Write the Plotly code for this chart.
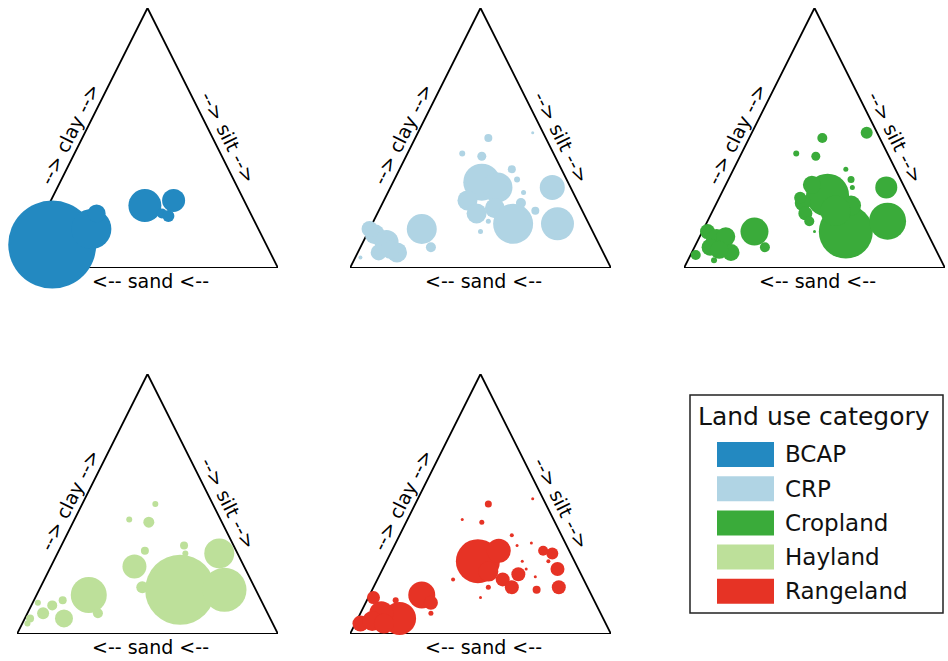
import plotly.graph_objects as go

# ---- data: soil texture (% sand, % silt, % clay) and bubble diameter per sample group ----
categories = ["BCAP", "CRP", "Cropland", "Hayland", "Rangeland"]
colors = ["#2389c1", "#b0d4e4", "#3aab3a", "#bde09a", "#e63325"]

bcap_sand = [82, 64, 59, 39, 27, 34, 32]
bcap_silt = [9, 21, 20, 37, 47, 45, 48]
bcap_clay = [9, 15, 21, 24, 26, 21, 20]
bcap_size = [88, 40, 18, 33, 23, 10, 12]

crp_sand = [84, 81, 79, 86, 85, 94, 81, 65, 65,
            33, 28, 42, 41, 33, 29, 7, 12, 18,
            35, 28, 22, 19, 19, 19, 22, 43, 38, 4]
crp_silt = [3, 9, 15, 8, 0, 2, 12, 20, 27,
            34, 41, 32, 38, 44, 54, 62, 71, 60,
            21, 29, 28, 43, 47, 52, 53, 43, 44, 44]
crp_clay = [13, 10, 6, 6, 15, 4, 7, 15, 8,
            33, 31, 26, 21, 23, 17, 31, 17, 22,
            44, 43, 50, 38, 34, 29, 25, 14, 18, 52]
crp_size = [20, 24, 20, 16, 16, 4, 18, 30, 10,
            37, 30, 20, 20, 20, 40, 25, 33, 8,
            6, 9, 8, 8, 6, 5, 10, 5, 5, 3]

crop_sand = [84, 82, 78, 86, 79, 93, 87, 83, 66, 65,
             31, 35, 42, 42, 43, 43, 31, 24, 31, 13, 7,
             19, 19, 20, 43, 22, 28, 35, 4]
crop_silt = [2, 7, 10, 6, 15, 2, 10, 10, 20, 27,
             41, 33, 33, 31, 36, 39, 55, 52, 47, 69, 62,
             43, 47, 49, 43, 28, 29, 21, 44]
crop_clay = [14, 11, 12, 8, 6, 5, 3, 7, 14, 8,
             28, 32, 25, 27, 21, 18, 14, 24, 22, 18, 31,
             38, 34, 31, 14, 50, 43, 44, 52]
crop_size = [15, 21, 19, 17, 17, 10, 6, 18, 28, 10,
             43, 18, 16, 12, 14, 10, 54, 20, 30, 37, 22,
             5, 7, 5, 3, 10, 9, 6, 12]

hay_sand = [92, 86, 86, 81, 76, 79, 94, 65, 65, 42, 35, 43, 29, 7, 12, 22, 28, 35, 19, 20]
hay_silt = [2, 2, 6, 8, 11, 15, 2, 20, 27, 32, 33, 39, 54, 62, 71, 28, 29, 21, 47, 49]
hay_clay = [6, 12, 8, 11, 13, 6, 4, 15, 8, 26, 32, 18, 17, 31, 17, 50, 43, 44, 34, 31]
hay_size = [8, 6, 12, 10, 8, 18, 6, 36, 10, 24, 8, 12, 70, 30, 44, 6, 11, 6, 8, 6]

range_sand = [94, 84, 76, 78, 84, 89, 85, 65, 63, 65,
              37, 27, 35, 31, 29, 24, 22, 28, 35, 19, 19, 13, 20, 20, 50, 38, 43, 18, 20, 10, 7, 8, 11, 10, 4]
range_silt = [2, 2, 11, 16, 8, 6, 11, 20, 25, 27,
              35, 41, 41, 48, 53, 53, 28, 29, 21, 43, 47, 52, 52, 55, 29, 44, 43, 60, 63, 58, 62, 67, 71, 62, 44]
range_clay = [4, 14, 13, 6, 8, 5, 4, 15, 12, 8,
              28, 32, 24, 21, 18, 23, 50, 43, 44, 38, 34, 35, 28, 25, 21, 18, 14, 22, 17, 32, 31, 25, 18, 28, 52]
range_size = [16, 13, 6, 33, 24, 20, 20, 27, 14, 5,
              44, 24, 20, 14, 14, 14, 7, 5, 3, 4, 3, 3, 3, 3, 4, 5, 3, 3, 8, 10, 12, 14, 14, 4, 3]

groups = [
    (bcap_sand, bcap_silt, bcap_clay, bcap_size),
    (crp_sand, crp_silt, crp_clay, crp_size),
    (crop_sand, crop_silt, crop_clay, crop_size),
    (hay_sand, hay_silt, hay_clay, hay_size),
    (range_sand, range_silt, range_clay, range_size),
]

# ---- page geometry (pixels) ----
W, H = 948, 661
TW, TH = 261, 260                      # triangle base width / height
origins = [(17, 268), (350, 268), (684, 268), (17, 634), (350, 634)]  # bottom-left corners
FONT = "DejaVu Sans"


def to_xy(sand, silt, clay):
    """Ternary composition -> position inside a unit triangle
    (sand at bottom-left, silt at bottom-right, clay at the apex)."""
    xs, ys = [], []
    for s, si, c in zip(sand, silt, clay):
        tot = s + si + c
        xs.append((si + c / 2) / tot)
        ys.append(c / tot)
    return xs, ys


def px_x(p):
    return p / W


def px_y(p):
    return 1 - p / H


fig = go.Figure()
layout_axes = {}
annotations = []

corner_sand, corner_silt, corner_clay = [100, 0, 0, 100], [0, 100, 0, 0], [0, 0, 100, 0]

for i, (cat, col, (sand, silt, clay, size)) in enumerate(zip(categories, colors, groups)):
    k = "" if i == 0 else str(i + 1)
    x0, yb = origins[i]
    layout_axes[f"xaxis{k}"] = dict(domain=[x0 / W, (x0 + TW) / W], range=[0, 1],
                                    visible=False, fixedrange=True, anchor=f"y{k}")
    layout_axes[f"yaxis{k}"] = dict(domain=[1 - yb / H, 1 - (yb - TH) / H], range=[0, 1],
                                    visible=False, fixedrange=True, anchor=f"x{k}")
    xref, yref = f"x{k}", f"y{k}"

    # triangle frame
    tx, ty = to_xy(corner_sand, corner_silt, corner_clay)
    fig.add_trace(go.Scatter(x=tx, y=ty, mode="lines", line=dict(color="black", width=1.8),
                             xaxis=xref, yaxis=yref, hoverinfo="skip", showlegend=False,
                             cliponaxis=False))

    # bubbles
    bx, by = to_xy(sand, silt, clay)
    fig.add_trace(go.Scatter(x=bx, y=by, mode="markers", name=cat,
                             marker=dict(color=col, size=size, sizemode="diameter",
                                         line=dict(width=0), opacity=1),
                             xaxis=xref, yaxis=yref, showlegend=False, cliponaxis=False))

    # edge labels
    font = dict(family=FONT, size=19, color="black")
    annotations.append(dict(x=0.25, y=0.5, xref=xref, yref=yref, text="--> clay -->",
                            showarrow=False, textangle=-63.4, font=font,
                            xshift=-13, yshift=4.5))
    annotations.append(dict(x=0.75, y=0.5, xref=xref, yref=yref, text="--> silt -->",
                            showarrow=False, textangle=63.4, font=font,
                            xshift=15.5, yshift=1))
    annotations.append(dict(x=0.5, y=0, xref=xref, yref=yref, text="<-- sand <--",
                            showarrow=False, font=font, xshift=3, yshift=-13))

# ---- legend panel ----
shapes = [dict(type="rect", xref="paper", yref="paper",
               x0=px_x(690), x1=px_x(943), y0=px_y(613), y1=px_y(395),
               line=dict(color="#222222", width=1.5), fillcolor="white", layer="below")]
annotations.append(dict(x=px_x(814), y=px_y(416), xref="paper", yref="paper",
                        xanchor="center", yanchor="middle",
                        text="Land use category", showarrow=False,
                        font=dict(family=FONT, size=25, color="#111111")))
for j, (cat, col) in enumerate(zip(categories, colors)):
    yc = 454.5 + j * 34.2
    shapes.append(dict(type="rect", xref="paper", yref="paper",
                       x0=px_x(717), x1=px_x(774), y0=px_y(yc + 12.5), y1=px_y(yc - 12.5),
                       line=dict(width=0), fillcolor=col))
    annotations.append(dict(x=px_x(783), y=px_y(yc), xref="paper", yref="paper",
                            text=cat, showarrow=False, xanchor="left", yanchor="middle",
                            font=dict(family=FONT, size=23, color="#111111")))

fig.update_layout(
    width=W, height=H, autosize=False,
    margin=dict(l=0, r=0, t=0, b=0, pad=0),
    paper_bgcolor="white", plot_bgcolor="white",
    showlegend=False,
    annotations=annotations, shapes=shapes,
    **layout_axes,
)

fig.write_html("out.html")
